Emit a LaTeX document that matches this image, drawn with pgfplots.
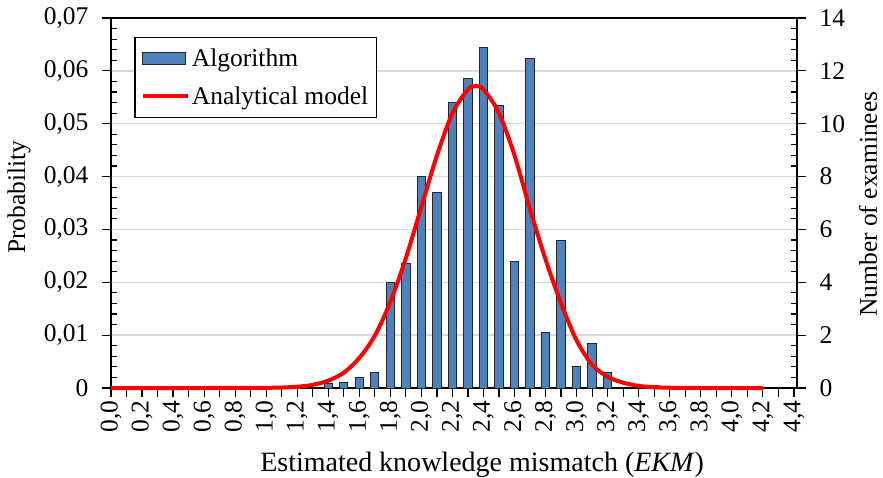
\documentclass[border=0pt]{standalone}
\usepackage{fontspec}
\setmainfont{Liberation Serif}
\usepackage{pgfplots}
\pgfplotsset{compat=1.18}
\definecolor{barblue}{HTML}{4F81BD}
\definecolor{gridgray}{HTML}{D9D9D9}
\newcommand{\fs}{\fontsize{25.5bp}{30bp}\selectfont}
\newcommand{\fl}{\fontsize{28bp}{32bp}\selectfont}
\begin{document}
\begin{tikzpicture}
\useasboundingbox (-111bp,-90bp) rectangle (772bp,388bp);
\begin{axis}[
  at={(0,0)}, anchor=south west,
  scale only axis, width=686bp, height=370bp,
  xmin=0, xmax=4.42, ymin=0, ymax=0.07,
  clip=false,
  axis line style={black, line width=1.2bp},
  tick style={black, line width=1.2bp},
  tick align=outside, major tick length=9bp, minor tick length=6bp,
  every minor tick/.append style={xshift=6bp},
  xtick pos=bottom, ytick pos=left,
  xtick={0,0.1,0.2,0.3,0.4,0.5,0.6,0.7,0.8,0.9,1,1.1,1.2,1.3,1.4,1.5,1.6,1.7,1.8,1.9,2,2.1,2.2,2.3,2.4,2.5,2.6,2.7,2.8,2.9,3,3.1,3.2,3.3,3.4,3.5,3.6,3.7,3.8,3.9,4,4.1,4.2,4.3,4.4},
  xticklabels={{0,0},{},{0,2},{},{0,4},{},{0,6},{},{0,8},{},{1,0},{},{1,2},{},{1,4},{},{1,6},{},{1,8},{},{2,0},{},{2,2},{},{2,4},{},{2,6},{},{2,8},{},{3,0},{},{3,2},{},{3,4},{},{3,6},{},{3,8},{},{4,0},{},{4,2},{},{4,4}},
  xticklabel style={rotate=90, anchor=east, font=\fs},
  ytick={0,0.01,0.02,0.03,0.04,0.05,0.06,0.07},
  yticklabels={{0},{0,01},{0,02},{0,03},{0,04},{0,05},{0,06},{0,07}},
  minor y tick num=4,
  scaled y ticks=false,
  yticklabel style={font=\fs, xshift=-10bp},
  ymajorgrids, major grid style={gridgray, line width=1.5bp},
  xlabel={Estimated knowledge mismatch (\textit{EKM})},
  xlabel style={font=\fl, at={(axis description cs:0.541,-0.208)}, anchor=center},
  ylabel={Probability},
  ylabel style={font=\fs, at={(axis description cs:-0.134,0.516)}, anchor=center, rotate=0},
  legend style={at={(0.034,0.9495)}, anchor=north west, draw=black, line width=1.2bp, font=\fs, inner xsep=6bp, inner ysep=10bp, row sep=14bp},
  legend cell align=left,
]
\addplot[ybar, bar width=8.3bp, fill=barblue, draw=black!85, line width=1bp,
  legend image code/.code={\draw[fill=barblue, draw=black!85, line width=1bp] (0bp,-6bp) rectangle (43bp,6bp);}]
coordinates {
(1.4,0.0009) (1.5,0.0010) (1.6,0.0020) (1.7,0.0030) (1.8,0.0200) (1.9,0.0235)
(2.0,0.0400) (2.1,0.0370) (2.2,0.0540) (2.3,0.0585) (2.4,0.0645) (2.5,0.0535)
(2.6,0.0240) (2.7,0.0624) (2.8,0.0105) (2.9,0.0280) (3.0,0.0040) (3.1,0.0085)
(3.2,0.0030) (3.5,0.0005)
};
\addlegendentry{Algorithm}
\addplot[red, line width=4bp, smooth,
  legend image code/.code={\draw[red, line width=4bp] (0bp,0bp) -- (45bp,0bp);}]
coordinates {
(0,0) (0.2,0) (0.4,0) (0.6,0) (0.8,0.000003) (0.9,0.00001) (1.0,0.00003)
(1.1,0.00009) (1.2,0.00024) (1.3,0.00059) (1.4,0.0014) (1.5,0.0029)
(1.6,0.0057) (1.7,0.0099) (1.8,0.0163) (1.9,0.0246) (2.0,0.0343)
(2.1,0.0440) (2.2,0.0520) (2.3,0.0565) (2.35,0.0571) (2.4,0.0565)
(2.5,0.0520) (2.6,0.0440) (2.7,0.0338) (2.8,0.0243) (2.9,0.0160)
(3.0,0.0090) (3.1,0.0044) (3.2,0.0021) (3.3,0.0010) (3.4,0.0004)
(3.5,0.00015) (3.6,0.00005) (3.8,0) (4.0,0) (4.2,0)
};
\addlegendentry{Analytical model}
\end{axis}
\begin{axis}[
  at={(0,0)}, anchor=south west,
  scale only axis, width=686bp, height=370bp,
  xmin=0, xmax=4.42, ymin=0, ymax=14,
  axis x line=none, axis y line*=right,
  axis line style={black, line width=1.2bp},
  tick style={black, line width=1.2bp},
  tick align=outside, major tick length=9bp, minor tick length=6bp,
  every minor tick/.append style={xshift=-6bp},
  ytick={0,2,4,6,8,10,12,14}, minor y tick num=4,
  yticklabel style={font=\fs, xshift=10bp},
  /pgf/number format/assume math mode=true,
  ylabel={Number of examinees},
  ylabel style={font=\fs, at={(axis description cs:1.1035,0.497)}, anchor=center, rotate=0},
]
\addplot[draw=none, forget plot] coordinates {(0,0) (1,14)};
\end{axis}
\end{tikzpicture}
\end{document}
